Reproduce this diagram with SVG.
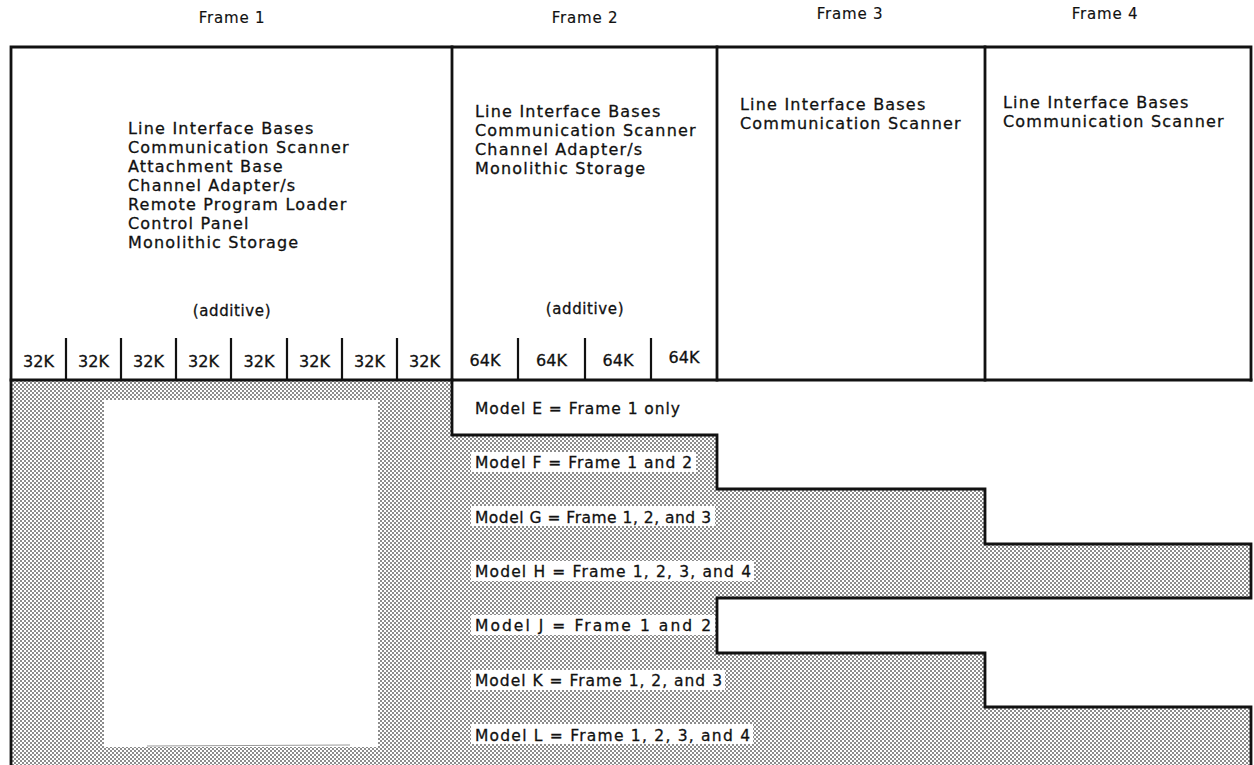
<svg xmlns="http://www.w3.org/2000/svg" width="1254" height="765" viewBox="0 0 1254 765">
<style>
  text { font-family: "DejaVu Sans", "Liberation Sans", sans-serif; fill: #111; stroke: #111; stroke-width: 0.3px; }
  .hdr { font-size: 15px; letter-spacing: 0.8px; text-anchor: middle; stroke-width: 0.15px; }
  .body { font-size: 16px; letter-spacing: 1.2px; }
  .add { font-size: 15px; letter-spacing: 0.6px; text-anchor: middle; }
  .cell { font-size: 16px; text-anchor: middle; }
  .model { font-size: 15.5px; }
  .line { stroke: #111; stroke-width: 2.8; fill: none; stroke-linecap: square; }
  .thin { stroke: #111; stroke-width: 2.2; fill: none; }
  .lbl { fill: #fff; }
</style>
<defs>
  <pattern id="dots" patternUnits="userSpaceOnUse" width="4" height="4">
    <rect width="4" height="4" fill="#fff"/>
    <rect x="0" y="0" width="2" height="2" fill="#8c8c8c"/>
    <rect x="2" y="2" width="2" height="2" fill="#8c8c8c"/>
  </pattern>
</defs>
<rect width="1254" height="765" fill="#fff"/>

<!-- frame headers -->
<g id="headers">
  <text class="hdr" x="232" y="23">Frame 1</text>
  <text class="hdr" x="585" y="23">Frame 2</text>
  <text class="hdr" x="850" y="19">Frame 3</text>
  <text class="hdr" x="1105" y="19">Frame 4</text>
</g>

<!-- shaded model area -->
<g id="shading">
  <polygon points="11,380 452,380 452,435 717,435 717,489 985,489 985,544 1251,544 1251,598 717,598 717,653 985,653 985,707 1251,707 1251,765 11,765" fill="url(#dots)"/>
  <rect x="104" y="400" width="274" height="347" fill="#fff"/>
  <line x1="147" y1="746" x2="350" y2="745" stroke="#999" stroke-width="1"/>
</g>

<g id="frame1">
  <text class="body" x="128" y="134">Line Interface Bases</text>
  <text class="body" x="128" y="153">Communication Scanner</text>
  <text class="body" x="128" y="172">Attachment Base</text>
  <text class="body" x="128" y="191">Channel Adapter/s</text>
  <text class="body" x="128" y="210">Remote Program Loader</text>
  <text class="body" x="128" y="229">Control Panel</text>
  <text class="body" x="128" y="248">Monolithic Storage</text>
  <text class="add" x="232" y="316">(additive)</text>
  <text class="cell" x="38.5" y="367">32K</text>
  <text class="cell" x="93.5" y="367">32K</text>
  <text class="cell" x="148.5" y="367">32K</text>
  <text class="cell" x="203.5" y="367">32K</text>
  <text class="cell" x="259" y="367">32K</text>
  <text class="cell" x="314.5" y="367">32K</text>
  <text class="cell" x="369.5" y="367">32K</text>
  <text class="cell" x="424.5" y="367">32K</text>
</g>

<g id="frame2">
  <text class="body" x="475" y="117">Line Interface Bases</text>
  <text class="body" x="475" y="136">Communication Scanner</text>
  <text class="body" x="475" y="155">Channel Adapter/s</text>
  <text class="body" x="475" y="174">Monolithic Storage</text>
  <text class="add" x="585" y="314">(additive)</text>
  <text class="cell" x="485" y="366">64K</text>
  <text class="cell" x="551.5" y="366">64K</text>
  <text class="cell" x="618" y="366">64K</text>
  <text class="cell" x="684" y="363">64K</text>
</g>

<g id="frame3">
  <text class="body" x="740" y="110">Line Interface Bases</text>
  <text class="body" x="740" y="129">Communication Scanner</text>
</g>

<g id="frame4">
  <text class="body" x="1003" y="108">Line Interface Bases</text>
  <text class="body" x="1003" y="127">Communication Scanner</text>
</g>

<!-- outlines -->
<g id="connectors">
  <path class="line" d="M11,765 V47 H1251 V380"/>
  <line class="line" x1="452" y1="47" x2="452" y2="380"/>
  <line class="line" x1="717" y1="47" x2="717" y2="380"/>
  <line class="line" x1="985" y1="47" x2="985" y2="380"/>
  <line class="line" x1="11" y1="380" x2="1251" y2="380"/>
  <path class="thin" d="M66,338 V380 M121,338 V380 M176,338 V380 M231,338 V380 M287,338 V380 M342,338 V380 M397,338 V380 M518,338 V380 M585,338 V380 M651,338 V380"/>
  <path class="line" d="M452,380 V435 H717 V489 H985 V544 H1251 V598 H717 V653 H985 V707 H1251 V765"/>
</g>

<g id="models">
  <text class="model" x="475" y="414" textLength="205" lengthAdjust="spacing">Model E = Frame 1 only</text>
  <rect class="lbl" x="471" y="452" width="225" height="20"/>
  <text class="model" x="475" y="468" textLength="217" lengthAdjust="spacing">Model F = Frame 1 and 2</text>
  <rect class="lbl" x="471" y="506" width="244" height="20"/>
  <text class="model" x="475" y="523" textLength="236" lengthAdjust="spacing">Model G = Frame 1, 2, and 3</text>
  <rect class="lbl" x="471" y="561" width="283" height="20"/>
  <text class="model" x="475" y="577" textLength="276" lengthAdjust="spacing">Model H = Frame 1, 2, 3, and 4</text>
  <rect class="lbl" x="471" y="615" width="244" height="20"/>
  <text class="model" x="475" y="631" textLength="236" lengthAdjust="spacing">Model J = Frame 1 and 2</text>
  <rect class="lbl" x="471" y="670" width="254" height="20"/>
  <text class="model" x="475" y="686" textLength="247" lengthAdjust="spacing">Model K = Frame 1, 2, and 3</text>
  <rect class="lbl" x="471" y="724" width="282" height="20"/>
  <text class="model" x="475" y="741" textLength="275" lengthAdjust="spacing">Model L = Frame 1, 2, 3, and 4</text>
</g>
</svg>
